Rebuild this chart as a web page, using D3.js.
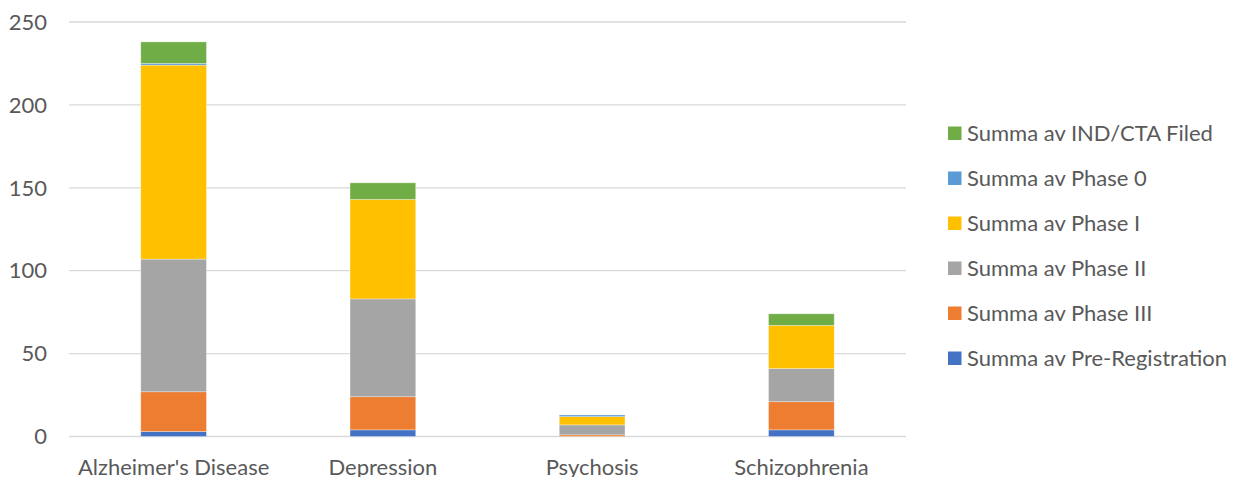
<!DOCTYPE html>
<html>
<head>
<meta charset="utf-8">
<script src="https://cdn.jsdelivr.net/npm/d3@7"></script>
<style>
  body { margin: 0; background: #fff; }
  text { font-family: Lato, "Open Sans", sans-serif; fill: #595959; }
</style>
</head>
<body>
<svg id="chart" width="1233" height="477"></svg>
<script>
// categories and series (stack order bottom -> top)
const categories = ["Alzheimer's Disease", "Depression", "Psychosis", "Schizophrenia"];
const seriesNames = [
  "Summa av Pre-Registration",
  "Summa av Phase III",
  "Summa av Phase II",
  "Summa av Phase I",
  "Summa av Phase 0",
  "Summa av IND/CTA Filed"
];
const preRegistration = [3, 4, 0, 4];
const phaseIII = [24, 20, 1, 17];
const phaseII = [80, 59, 6, 20];
const phaseI = [117, 60, 5, 26];
const phase0 = [1, 0, 1, 0];
const indCtaFiled = [13, 10, 0, 7];
const yTicks = [0, 50, 100, 150, 200, 250];

const colors = ["#4472C4", "#ED7D31", "#A5A5A5", "#FFC000", "#5B9BD5", "#70AD47"];

const allSeries = [preRegistration, phaseIII, phaseII, phaseI, phase0, indCtaFiled];
const rows = categories.map((c, i) => {
  const r = { cat: c };
  seriesNames.forEach((s, k) => (r[s] = allSeries[k][i]));
  return r;
});

const svg = d3.select("#chart");
const plotLeft = 69, plotRight = 906, plotTop = 22, plotBottom = 436.5;

const x = d3.scaleBand().domain(categories).range([plotLeft, plotRight])
  .paddingInner(0.686).paddingOuter(0.343);
const y = d3.scaleLinear().domain([0, 250]).range([plotBottom, plotTop]);

// gridlines
svg.append("g").selectAll("line").data(yTicks).enter().append("line")
  .attr("x1", plotLeft).attr("x2", plotRight)
  .attr("y1", d => y(d)).attr("y2", d => y(d))
  .attr("stroke", "#D9D9D9").attr("stroke-width", 1.3);

// y labels
svg.append("g").selectAll("text").data(yTicks).enter().append("text")
  .attr("x", 47).attr("y", d => y(d)).attr("dy", "0.35em")
  .attr("text-anchor", "end").style("font-size", "22px").text(d => d);

// stacked bars
const stack = d3.stack().keys(seriesNames)(rows);
svg.append("g").selectAll("g").data(stack).enter().append("g")
  .attr("fill", (d, i) => colors[i])
  .selectAll("rect").data(d => d).enter().append("rect")
  .attr("x", d => x(d.data.cat))
  .attr("width", x.bandwidth())
  .attr("y", d => y(d[1]))
  .attr("height", d => y(d[0]) - y(d[1]))
  .attr("stroke", "#fff").attr("stroke-opacity", 0.4).attr("stroke-width", 0.8);

// x labels
svg.append("g").selectAll("text").data(categories).enter().append("text")
  .attr("x", d => x(d) + x.bandwidth() / 2).attr("y", 475)
  .attr("text-anchor", "middle").style("font-size", "22px").text(d => d);

// legend (top -> bottom reversed order)
const legendItems = seriesNames.map((s, i) => ({ name: s, color: colors[i] })).reverse();
const lg = svg.append("g").selectAll("g").data(legendItems).enter().append("g")
  .attr("transform", (d, i) => `translate(948, ${133 + i * 45})`);
lg.append("rect").attr("x", 0).attr("y", -6.5).attr("width", 13.5).attr("height", 13.5)
  .attr("fill", d => d.color);
lg.append("text").attr("x", 19).attr("y", 0).attr("dy", "0.35em")
  .style("font-size", "22px").text(d => d.name);
</script>
</body>
</html>
